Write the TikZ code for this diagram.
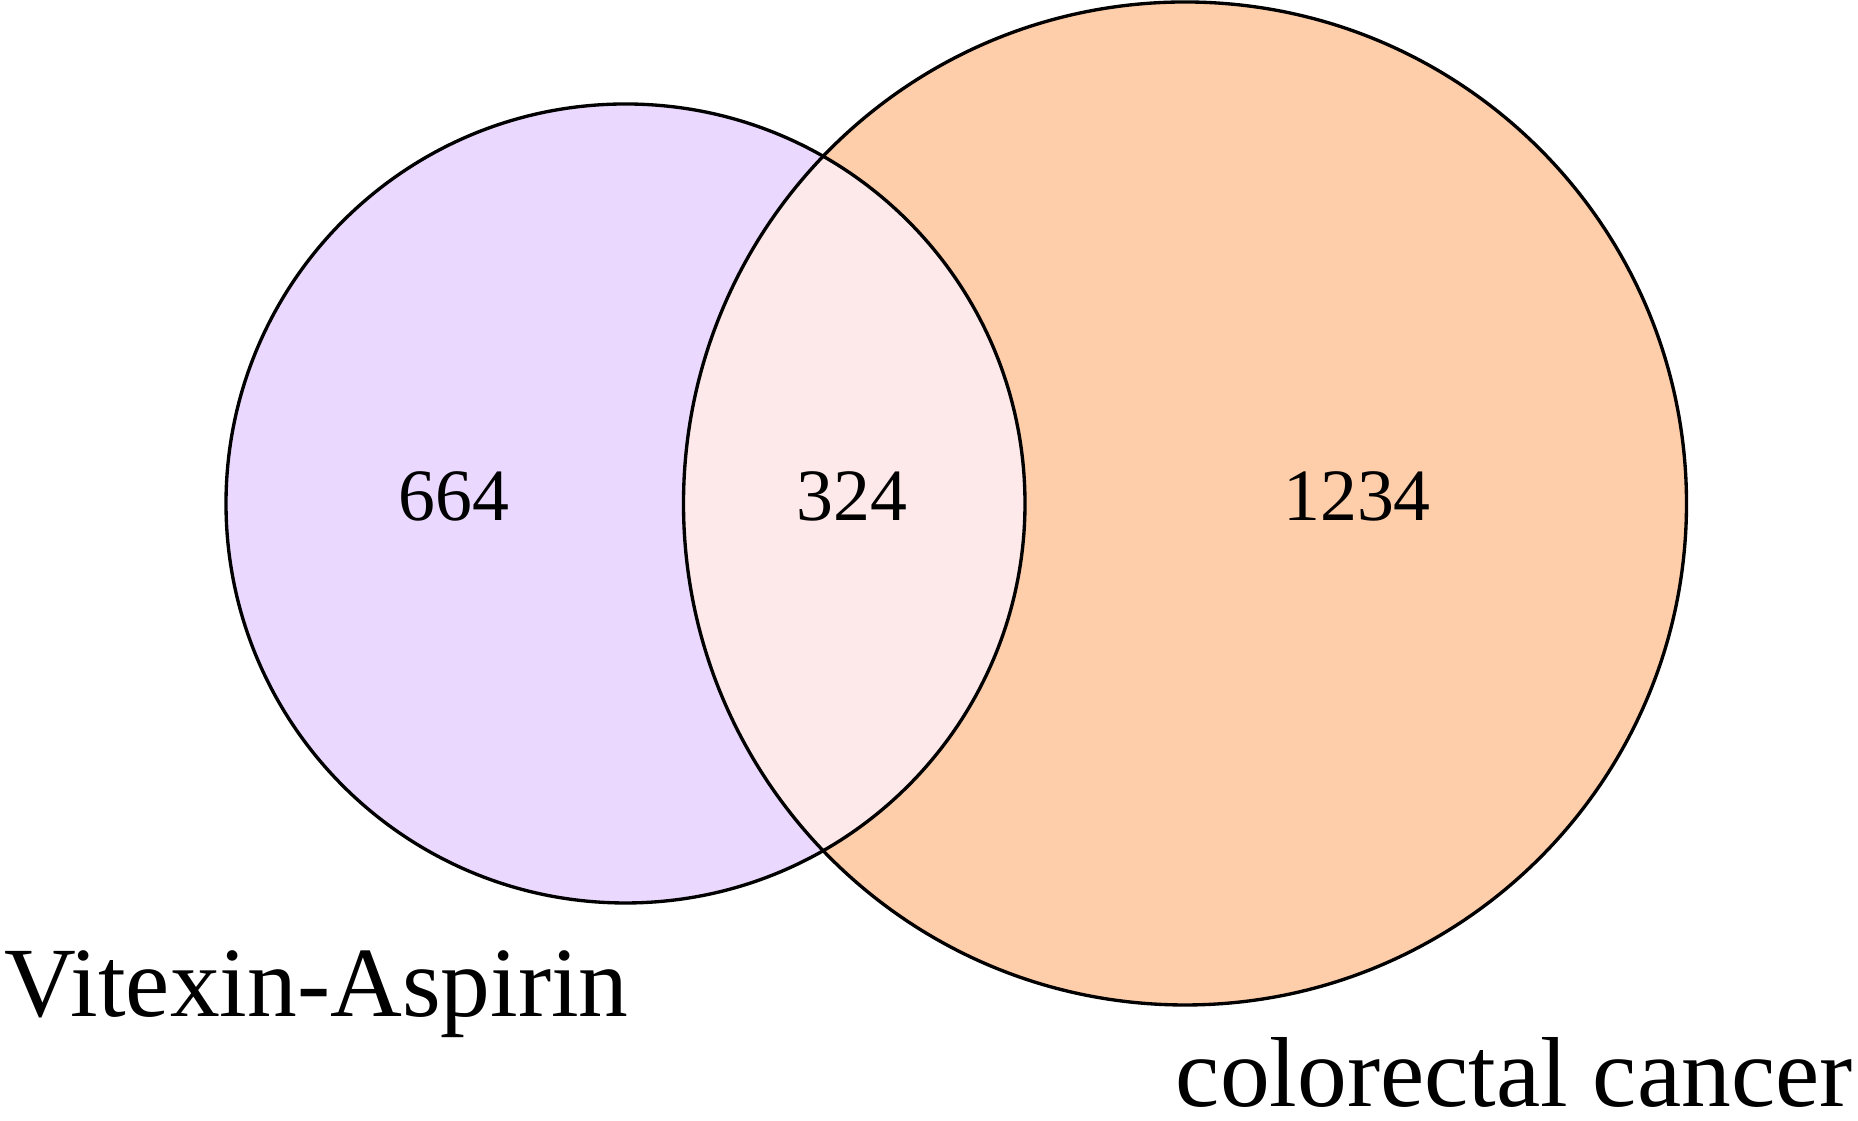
\documentclass[tikz,border=0pt]{standalone}
\usepackage{fontspec}
\setmainfont{Liberation Serif}
\usepackage{tikz}
\usetikzlibrary{positioning}
\usepackage{xcolor}

\definecolor{vitexcol}{HTML}{EBD8FE}
\definecolor{crccol}{HTML}{FECDA9}
\definecolor{bothcol}{HTML}{FDE9EA}

\begin{document}
\begin{tikzpicture}[
  setline/.style={black, line width=0.95pt},
  countlabel/.style={inner sep=0pt, anchor=base, font=\fontsize{21}{24}\selectfont},
  setlabel/.style={inner sep=0pt, text depth=0pt, font=\fontsize{28.3}{32}\selectfont}
]
\useasboundingbox (0,0) rectangle (18.58,11.21);

% set circles
\fill[vitexcol] (6.255,6.175) circle [radius=3.995];
\fill[crccol] (11.85,6.175) circle [radius=5.015];
\begin{scope}
\clip (6.255,6.175) circle [radius=3.995];
\fill[bothcol] (11.85,6.175) circle [radius=5.015];
\end{scope}

\draw[setline] (6.255,6.175) circle [radius=3.995];
\draw[setline] (11.85,6.175) circle [radius=5.015];

% counts
\node[countlabel] (onlyva) at (4.54,6.0) {664};
\node[countlabel] (shared) at (8.52,6.0) {324};
\node[countlabel] (onlycrc) at (13.57,6.0) {1234};

% set names
\node[setlabel, anchor=base west] (vaname) at (0.04,1.04) {Vitexin-Aspirin};
\node[setlabel, anchor=base east] (crcname) at (18.53,0.14) {colorectal cancer};

\end{tikzpicture}
\end{document}
